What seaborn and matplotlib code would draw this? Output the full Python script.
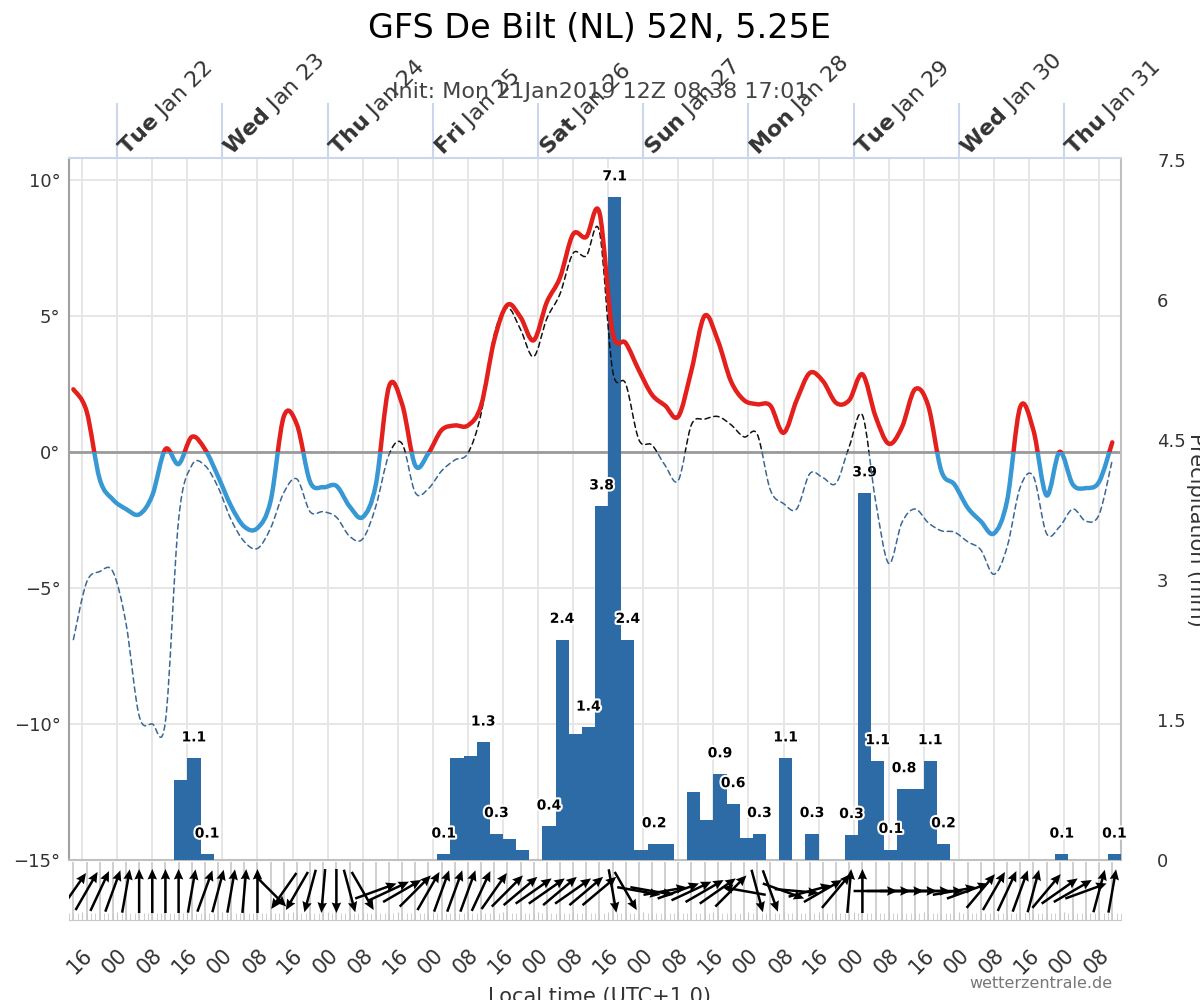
import numpy as np
import pandas as pd
import matplotlib
matplotlib.use("Agg")
import matplotlib.pyplot as plt
import matplotlib.dates as mdates
import matplotlib.patheffects as pe
from matplotlib.patches import Rectangle, PathPatch
from matplotlib.path import Path
import seaborn as sns

# GFS 12Z run, 3-hourly steps, local time (UTC+1)
times = pd.date_range("2019-01-21 14:00", periods=80, freq="3h")
precip_start = pd.date_range("2019-01-21 13:00", periods=80, freq="3h")

temp_2m = [2.3, 1.5, -1.0, -1.75, -2.1, -2.3, -1.6, 0.1, -0.45, 0.55,
           0.1, -0.9, -2.0, -2.75, -2.8, -1.8, 1.3, 1.0, -1.1, -1.3,
           -1.25, -2.0, -2.4, -1.2, 2.4, 1.75, -0.5, -0.05, 0.8, 0.97,
           0.97, 1.7, 4.1, 5.4, 4.95, 4.1, 5.5, 6.4, 8.0, 7.9,
           8.8, 4.4, 4.0, 3.0, 2.1, 1.7, 1.3, 3.0, 5.0, 4.1,
           2.6, 1.9, 1.75, 1.7, 0.7, 1.9, 2.9, 2.6, 1.8, 1.9,
           2.85, 1.3, 0.3, 0.9, 2.3, 1.7, -0.7, -1.2, -2.05, -2.55,
           -3.0, -1.8, 1.65, 0.8, -1.6, 0.0, -1.2, -1.33, -1.1, 0.35]

dewpoint = [-6.9, -4.8, -4.4, -4.4, -6.3, -9.7, -10.0, -9.9, -2.5, -0.5,
            -0.5, -1.3, -2.5, -3.3, -3.55, -2.8, -1.5, -1.0, -2.2, -2.2,
            -2.4, -3.1, -3.2, -2.0, -0.1, 0.3, -1.5, -1.35, -0.7, -0.3,
            -0.05, 1.4, 4.3, 5.3, 4.5, 3.5, 4.9, 5.8, 7.3, 7.2,
            8.1, 3.0, 2.5, 0.45, 0.25, -0.5, -1.05, 1.0, 1.2, 1.3,
            1.0, 0.55, 0.65, -1.4, -1.9, -2.1, -0.8, -0.95, -1.15, 0.2,
            1.35, -1.8, -4.1, -2.6, -2.1, -2.6, -2.9, -2.95, -3.3, -3.6,
            -4.5, -3.5, -1.3, -0.9, -3.0, -2.75, -2.1, -2.55, -2.3, -0.3]

precip_mm = [0, 0, 0, 0, 0, 0, 0, 0, 0.86, 1.09,
             0.06, 0, 0, 0, 0, 0, 0, 0, 0, 0,
             0, 0, 0, 0, 0, 0, 0, 0, 0.06, 1.09,
             1.11, 1.26, 0.28, 0.23, 0.11, 0, 0.36, 2.36, 1.35, 1.42,
             3.79, 7.1, 2.36, 0.11, 0.17, 0.17, 0, 0.73, 0.43, 0.92,
             0.6, 0.24, 0.28, 0, 1.09, 0, 0.28, 0, 0, 0.27,
             3.93, 1.06, 0.11, 0.76, 0.76, 1.06, 0.17, 0, 0, 0,
             0, 0, 0, 0, 0, 0.06, 0, 0, 0, 0.06]

# bars that carry a value label in the original
labelled_bars = [9, 10, 28, 31, 32, 36, 37, 39, 40, 41, 42, 44, 49, 50,
                 52, 54, 56, 59, 60, 61, 62, 63, 65, 66, 75, 79]

# wind direction (degrees, where the wind comes from)
wind_from = [215, 210, 205, 200, 190, 180, 180, 180, 180, 190,
             200, 195, 190, 185, 180, 315, 35, 30, 15, 5,
             0, 345, 330, 250, 245, 240, 225, 210, 200, 200,
             200, 205, 215, 225, 230, 235, 235, 230, 235, 230,
             230, 350, 330, 280, 280, 260, 250, 245, 240, 235,
             225, 100, 345, 340, 290, 275, 255, 240, 220, 185,
             180, 270, 270, 270, 270, 270, 270, 260, 250, 220,
             210, 205, 200, 195, 220, 235, 240, 250, 195, 190]

x_start = pd.Timestamp("2019-01-21 13:00")
x_end = pd.Timestamp("2019-01-31 13:00")
days = pd.date_range("2019-01-22", "2019-01-31", freq="D")

RED = "#e3201c"
BLUE = "#3798d4"
BAR = "#2c6ba6"
GRID = "#e6e6e6"
TXT = "#333333"

sns.set_style("white")
plt.rcParams["font.family"] = ["DejaVu Sans"]
plt.rcParams["mathtext.fontset"] = "dejavusans"

fig = plt.figure(figsize=(12, 10), dpi=100)
ax_t = fig.add_axes([0.0575, 0.14, 0.8767, 0.702])
ax_p = ax_t.twinx()
ax_l = ax_t.twinx()
ax_w = fig.add_axes([0.0575, 0.08, 0.8767, 0.058])
x0, x1 = mdates.date2num(x_start), mdates.date2num(x_end)

# temperature axis (grid, zero line, left labels)
ax_t.set_xlim(x_start, x_end)
ax_t.set_ylim(-15, 10.8)
ax_t.xaxis.set_major_locator(mdates.HourLocator(byhour=[0, 8, 16]))
ax_t.tick_params(axis="x", length=0, labelbottom=False)
ax_t.set_yticks([-15, -10, -5, 0, 5, 10])
ax_t.set_yticklabels([f"{v}°".replace("-", "\u2212") for v in [-15, -10, -5, 0, 5, 10]])
ax_t.tick_params(axis="y", length=0, pad=6, labelsize=13, labelcolor=TXT)
ax_t.grid(True, color=GRID, lw=1.4)
ax_t.axhline(0, color="#9a9a9a", lw=2)
for side, col in [("left", "#a0a0a0"), ("bottom", "#c0c0c0"),
                  ("top", "#ccd6eb"), ("right", "#c0c0c0")]:
    ax_t.spines[side].set_color(col)
    ax_t.spines[side].set_linewidth(1.5)
    ax_t.spines[side].set_visible(True)

# day markers above the plot
trans = ax_t.get_xaxis_transform()
day_num = mdates.date2num(days)
ax_t.vlines(day_num, 1.0, 1.079, transform=trans, color="#ccd6eb", lw=1.5, clip_on=False)
for d, dn in zip(days, day_num):
    ax_t.annotate(rf"$\mathbf{{{d:%a}}}$ {d:%b} {d.day}", xy=(dn, 1.0),
                  xycoords=trans, xytext=(14, -2), textcoords="offset pixels",
                  rotation=45, ha="left", va="bottom", rotation_mode="anchor",
                  fontsize=16, color=TXT)

# precipitation bars (3-hour sums)
bar_mid = mdates.date2num(precip_start) + 1.5 / 24
rain = pd.DataFrame({"mid": bar_mid, "mm": precip_mm})
sns.histplot(data=rain, x="mid", weights="mm", bins=len(rain), binrange=(x0, x1),
             ax=ax_p, color=BAR, alpha=1, linewidth=0, element="bars")
ax_p.set_ylim(0, 7.52)
ax_p.set_yticks([0, 1.5, 3, 4.5, 6, 7.5])
ax_p.set_yticklabels(["0", "1.5", "3", "4.5", "6", "7.5"])
ax_p.tick_params(axis="y", length=0, pad=26, labelsize=13, labelcolor=TXT)
for i in labelled_bars:
    ax_p.annotate(f"{precip_mm[i]:.1f}", xy=(bar_mid[i], precip_mm[i]),
                  xytext=(0, 15), textcoords="offset points", ha="center", va="center",
                  fontsize=10, fontweight="bold", color="black",
                  path_effects=[pe.withStroke(linewidth=3, foreground="white")])


def spline_path(xs, ys):
    # cardinal spline through the points, like the original's spline series
    x = np.asarray(xs, float)
    y = np.asarray(ys, float)
    n = len(x)
    verts, codes = [(x[0], y[0])], [Path.MOVETO]
    for i in range(n - 1):
        a, b = max(i - 1, 0), min(i + 2, n - 1)
        verts += [(x[i] + (x[i + 1] - x[a]) / 6, y[i] + (y[i + 1] - y[a]) / 6),
                  (x[i + 1] - (x[b] - x[i]) / 6, y[i + 1] - (y[b] - y[i]) / 6),
                  (x[i + 1], y[i + 1])]
        codes += [Path.CURVE4] * 3
    return Path(verts, codes)


def two_tone(ax, y, warm, cold, **kw):
    path = spline_path(mdates.date2num(times), y)
    for col, y0 in ((warm, 0), (cold, -100)):
        patch = PathPatch(path, fill=False, edgecolor=col, transform=ax.transData,
                          capstyle="round", joinstyle="round", **kw)
        ax.add_patch(patch)
        patch.set_clip_path(Rectangle((x0 - 5, y0), 30, 100, transform=ax.transData))


two_tone(ax_l, dewpoint, "#111111", "#3a6796", lw=1.1, linestyle=(0, (3.5, 2.5)))
two_tone(ax_l, temp_2m, RED, BLUE, lw=3.2)
ax_l.set_xlim(x0, x1)
ax_l.set_ylim(-15, 10.8)

for a in (ax_p, ax_l):
    for s in a.spines.values():
        s.set_visible(False)
    a.set_xlabel("")
    a.set_ylabel("")
ax_l.set_yticks([])
ax_p.set_xlim(x0, x1)

# wind arrows strip
t_num = mdates.date2num(times)
toward = np.deg2rad((np.array(wind_from) + 180) % 360)
ax_w.set_xlim(x_start, x_end)
ax_w.set_ylim(-1, 1)
ax_w.vlines(t_num, -1, 1, color="#c8c8c8", lw=1.2, zorder=0)
ax_w.quiver(t_num, np.zeros(len(t_num)), np.sin(toward), np.cos(toward),
            angles="uv", scale_units="dots", scale=1 / 44, units="dots",
            width=2.5, headwidth=3.8, headlength=4.2, headaxislength=3.8,
            pivot="middle", color="black", zorder=3)
ax_w.set_yticks([])
for side in ("left", "right", "top"):
    ax_w.spines[side].set_visible(False)
ax_w.spines["bottom"].set_color("#c8c8c8")
ax_w.xaxis.set_major_locator(mdates.HourLocator(byhour=[0, 8, 16]))
ax_w.xaxis.set_major_formatter(mdates.DateFormatter("%H"))
ax_w.xaxis.set_minor_locator(mdates.HourLocator(byhour=range(24)))
ax_w.tick_params(axis="x", which="both", direction="in", color="#c8c8c8", bottom=True)
ax_w.tick_params(axis="x", which="major", length=6, pad=18, labelsize=15, labelcolor=TXT)
ax_w.tick_params(axis="x", which="minor", length=5)
plt.setp(ax_w.get_xticklabels(), rotation=45, ha="right", rotation_mode="anchor")

# texts
fig.text(0.5, 0.972, "GFS De Bilt (NL) 52N, 5.25E", ha="center", va="center",
         fontsize=24, color="black")
fig.text(0.5, 0.908, "Init: Mon 21Jan2019 12Z 08:38 17:01", ha="center", va="center",
         fontsize=16, color="#444444")
fig.text(0.9965, 0.47, "Precipitation (mm)", rotation=270, ha="center", va="center",
         fontsize=15, color=TXT)
fig.text(0.5, 0.013, "Local time (UTC+1.0)", ha="center", va="top", fontsize=15, color=TXT)
fig.text(0.867, 0.017, "wetterzentrale.de", ha="center", va="center",
         fontsize=11.5, color="#777777")

fig.savefig("out.png", dpi=100)
